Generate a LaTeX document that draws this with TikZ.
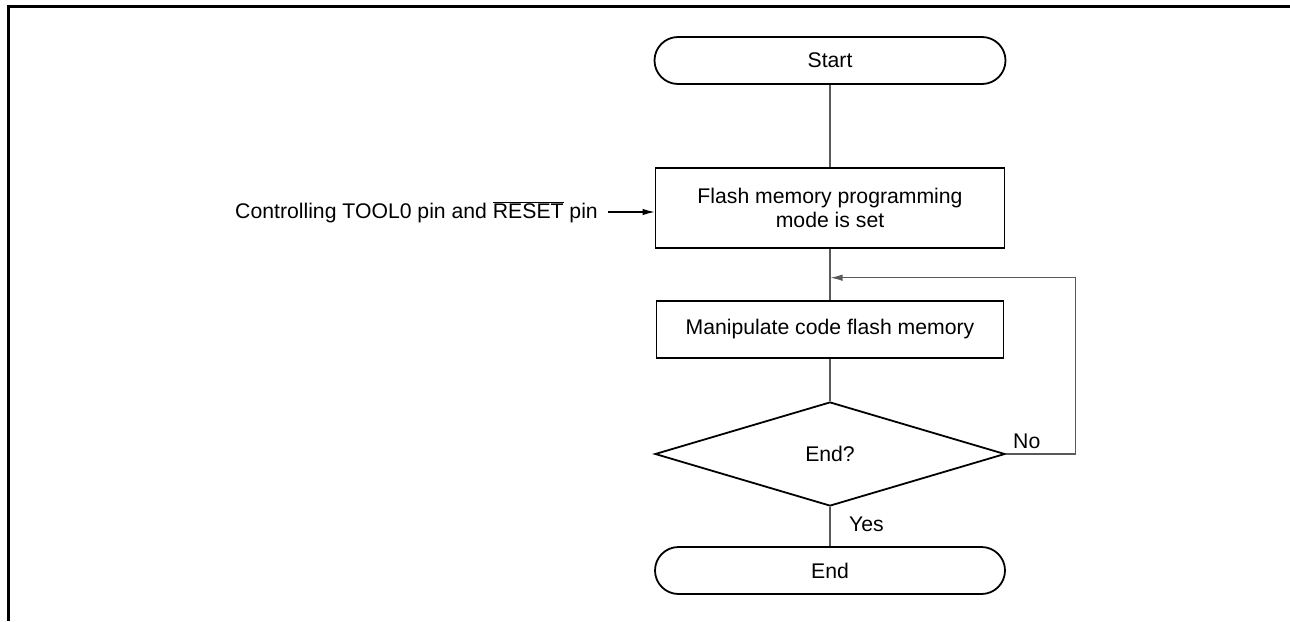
\documentclass[tikz,border=0pt]{standalone}
\usepackage{fontspec}
\setmainfont{Liberation Sans}
\usetikzlibrary{shapes.geometric,arrows.meta,calc}
\begin{document}
\begin{tikzpicture}[x=1pt,y=-1pt,
  every node/.style={font=\fontsize{21.2}{24.5}\selectfont},
  box/.style={draw=black,line width=1.8pt,rectangle,inner sep=0pt,align=center},
  pill/.style={box,rounded corners=23.5pt},
  dia/.style={draw=black,line width=1.8pt,diamond,inner sep=0pt,minimum width=350pt,minimum height=104pt,aspect=3.37},
  conn/.style={draw=black!65,line width=1.1pt},
  tip/.style={-{Latex[length=12pt,width=6.5pt]}},
  frame/.style={draw=black,line width=3pt}]
\useasboundingbox (0,0) rectangle (1290,621);
\draw[frame] (7,6) -- (1290,6);
\draw[frame] (8.5,4.5) -- (8.5,621);
\node[pill,minimum width=351pt,minimum height=47pt] (start) at (830,60.5) {Start};
\node[box,minimum width=349pt,minimum height=80pt] (flash) at (830,208) {Flash memory programming\\mode is set};
\node[box,minimum width=347pt,minimum height=57pt] (manip) at (830,329.5) {Manipulate code flash memory};
\node[dia] (dec) at (830,454) {End?};
\node[pill,minimum width=350pt,minimum height=47pt] (end) at (830,570.5) {End};
\node[anchor=east,inner sep=0pt] (ctl) at (598,212) {Controlling TOOL0 pin and $\overline{\hbox{RESET}}$ pin};
\coordinate (ctlend) at (flash.west |- ctl);
\coordinate (ctlstart) at (608,212);
\coordinate (loopc) at (1075.7,454);
\coordinate (loopt) at (1075.7,277.7);
\coordinate (loopm) at (830.5,277.7);
\draw[conn] (start.south) -- (flash.north);
\draw[conn] (flash.south) -- (manip.north);
\draw[conn] (manip.south) -- (dec.north);
\draw[conn] (dec.south) -- (end.north);
\draw[conn,tip] (dec.east) -- (loopc) -- (loopt) -- (loopm);
\draw[conn,draw=black,tip] (ctlstart) -- (ctlend);
\node[anchor=west,inner sep=0pt] (no) at (1013,441) {No};
\node[anchor=west,inner sep=0pt] (yes) at (849,524) {Yes};
\end{tikzpicture}
\end{document}
